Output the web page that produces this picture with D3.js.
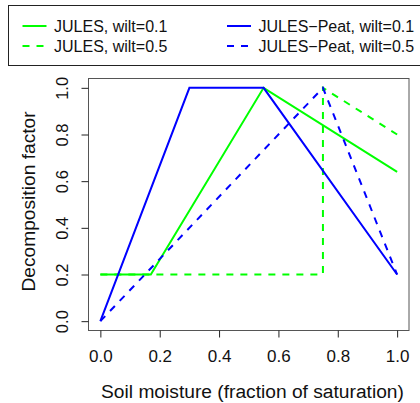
<!DOCTYPE html>
<html>
<head>
<meta charset="utf-8">
<script src="https://cdn.jsdelivr.net/npm/d3@7"></script>
<style>
  html, body { margin: 0; padding: 0; background: #fff; }
  svg { display: block; font-family: "Liberation Sans", Arial, Helvetica, sans-serif; }
</style>
</head>
<body>
<svg id="chart" width="420" height="403"></svg>
<script>
// Moisture response curves: soil moisture (fraction of saturation) -> decomposition factor
const julesWilt01 = [[0, 0.2], [0.17, 0.2], [0.55, 1.0], [1.0, 0.64]];
const julesWilt05 = [[0, 0.2], [0.75, 0.2], [0.75, 1.0], [1.0, 0.8]];
const peatWilt01  = [[0, 0.0], [0.3, 1.0], [0.55, 1.0], [1.0, 0.2]];
const peatWilt05  = [[0, 0.0], [0.75, 1.0], [1.0, 0.2]];

const xTicks = [0, 0.2, 0.4, 0.6, 0.8, 1.0];
const yTicks = [0, 0.2, 0.4, 0.6, 0.8, 1.0];

const seriesNames = ["JULES, wilt=0.1", "JULES, wilt=0.5", "JULES\u2212Peat, wilt=0.1", "JULES\u2212Peat, wilt=0.5"];
const seriesData = [julesWilt01, julesWilt05, peatWilt01, peatWilt05];
const seriesColor = ["#00ff00", "#00ff00", "#0000ff", "#0000ff"];
const seriesDashed = [false, true, false, true];

const svg = d3.select("#chart");
const box = { left: 88.5, right: 409, top: 78.5, bottom: 330.5 };

// 4% padding on each side of the data range, as in base R plots
const x = d3.scaleLinear().domain([-0.04, 1.04]).range([box.left, box.right]);
const y = d3.scaleLinear().domain([-0.04, 1.04]).range([box.bottom, box.top]);

const line = d3.line().x(d => x(d[0])).y(d => y(d[1]));

// curves
const g = svg.append("g");
seriesData.forEach((d, i) => {
  g.append("path")
    .attr("d", line(d))
    .attr("fill", "none")
    .attr("stroke", seriesColor[i])
    .attr("stroke-width", 2)
    .attr("stroke-dasharray", seriesDashed[i] ? "7,7" : null);
});

// plot frame
svg.append("rect")
  .attr("x", box.left).attr("y", box.top)
  .attr("width", box.right - box.left).attr("height", box.bottom - box.top)
  .attr("fill", "none").attr("stroke", "#555").attr("stroke-width", 1);

// x axis
const xAxis = svg.append("g")
  .attr("transform", `translate(0,${box.bottom})`)
  .call(d3.axisBottom(x).tickValues(xTicks).tickFormat(d3.format(".1f")).tickSize(7).tickPadding(12).tickSizeOuter(0));
xAxis.select(".domain").remove();
xAxis.selectAll("line").attr("stroke", "#222");
xAxis.selectAll("text").attr("font-size", 17).attr("fill", "#111")
  .attr("font-family", "Liberation Sans, Arial, sans-serif");

// y axis with labels parallel to the axis
const yAxis = svg.append("g")
  .attr("transform", `translate(${box.left},0)`)
  .call(d3.axisLeft(y).tickValues(yTicks).tickFormat(d3.format(".1f")).tickSize(7).tickSizeOuter(0));
yAxis.select(".domain").remove();
yAxis.selectAll("line").attr("stroke", "#222");
yAxis.selectAll("text")
  .attr("font-size", 16.5).attr("fill", "#111")
  .attr("font-family", "Liberation Sans, Arial, sans-serif")
  .attr("x", null).attr("dy", null)
  .attr("text-anchor", "middle")
  .attr("transform", `translate(${68 - box.left},0) rotate(-90)`);

// axis titles
svg.append("text")
  .attr("x", 252.5).attr("y", 398)
  .attr("text-anchor", "middle").attr("font-size", 19.2).attr("fill", "#111")
  .text("Soil moisture (fraction of saturation)");
svg.append("text")
  .attr("transform", `translate(34.5,${(box.top + box.bottom) / 2 - 3}) rotate(-90)`)
  .attr("text-anchor", "middle").attr("font-size", 19.2).attr("fill", "#111")
  .text("Decomposition factor");

// legend
svg.append("rect")
  .attr("x", 8.5).attr("y", 5.5).attr("width", 430).attr("height", 60)
  .attr("fill", "#fff").attr("stroke", "#222").attr("stroke-width", 1);

const legCols = [22.5, 227];
const legRows = [26, 46];
seriesNames.forEach((name, i) => {
  const cx = legCols[Math.floor(i / 2)];
  const cy = legRows[i % 2];
  svg.append("line")
    .attr("x1", cx).attr("x2", cx + 24)
    .attr("y1", cy).attr("y2", cy)
    .attr("stroke", seriesColor[i]).attr("stroke-width", 2)
    .attr("stroke-dasharray", seriesDashed[i] ? "7,7" : null);
  svg.append("text")
    .attr("x", cx + 31.5).attr("y", cy + 5.8)
    .attr("font-size", 16).attr("fill", "#111")
    .text(name);
});
</script>
</body>
</html>
